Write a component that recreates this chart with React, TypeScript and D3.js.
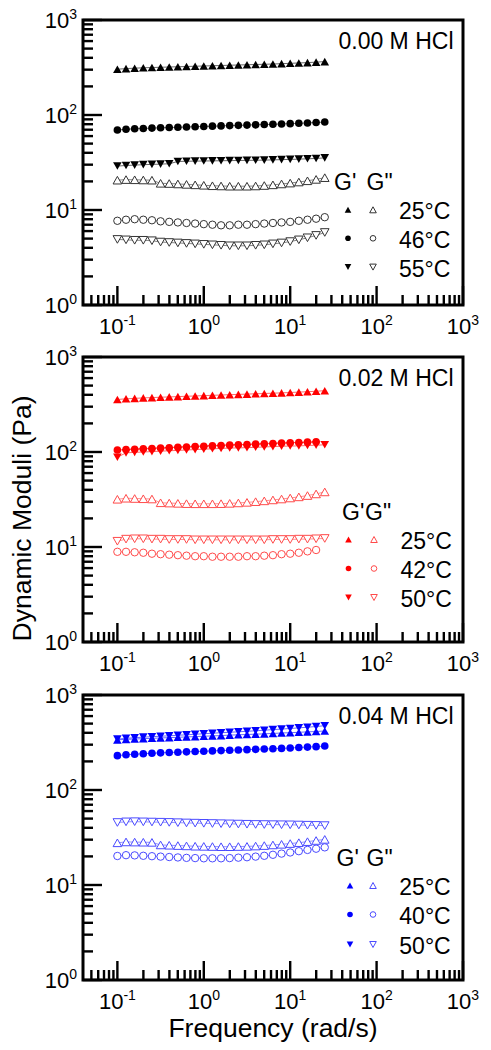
import React from "react";
import * as d3 from "d3";

// ---------- data ----------
const FREQ = [0.1, 0.1259, 0.1585, 0.1995, 0.2512, 0.3162, 0.3981, 0.5012, 0.631, 0.7943, 1, 1.259, 1.585, 1.995, 2.512, 3.162, 3.981, 5.012, 6.31, 7.943, 10, 12.59, 15.85, 19.95, 25.12];

const X_TICK_EXPS = [-1, 0, 1, 2, 3];
const Y_TICK_EXPS = [0, 1, 2, 3];

// 0.00 M HCl
const P1_TEMPS = ["25°C", "46°C", "55°C"];
const P1_GP_25 = [303, 308, 311, 314, 316, 318, 320, 322, 324, 326, 328, 330, 332, 334, 336, 338, 340, 342, 344, 347, 350, 353, 356, 360, 365];
const P1_GP_46 = [69.5, 70.8, 71.6, 72.2, 72.8, 73.3, 73.8, 74.3, 74.8, 75.3, 75.8, 76.3, 76.8, 77.3, 77.8, 78.3, 78.8, 79.3, 79.9, 80.5, 81.1, 81.8, 82.5, 83.3, 84.3];
const P1_GP_55 = [29.0, 29.4, 29.7, 30.0, 30.2, 30.4, 30.7, 32.4, 32.6, 32.7, 32.8, 32.9, 33.0, 33.1, 33.2, 33.3, 33.4, 33.5, 33.7, 33.9, 34.1, 34.3, 34.6, 34.9, 35.4];
const P1_GPP_25 = [20.6, 20.9, 20.8, 20.7, 20.6, 19.1, 19.0, 18.8, 18.6, 18.4, 18.2, 18.0, 17.9, 17.8, 17.8, 17.8, 17.9, 18.1, 18.4, 18.8, 19.2, 19.7, 20.3, 21.0, 21.9];
const P1_GPP_46 = [7.7, 7.9, 8.0, 7.9, 7.8, 7.6, 7.5, 7.4, 7.3, 7.2, 7.1, 7.0, 6.9, 6.9, 7.0, 7.0, 7.1, 7.2, 7.3, 7.4, 7.5, 7.7, 7.9, 8.1, 8.4];
const P1_GPP_55 = [4.9, 4.85, 4.8, 4.8, 4.75, 4.6, 4.55, 4.5, 4.45, 4.4, 4.35, 4.3, 4.25, 4.2, 4.2, 4.2, 4.25, 4.3, 4.4, 4.5, 4.65, 4.85, 5.1, 5.4, 5.8];

// 0.02 M HCl
const P2_TEMPS = ["25°C", "42°C", "50°C"];
const P2_GP_25 = [357, 363, 367, 371, 374, 377, 380, 383, 386, 389, 392, 395, 398, 401, 404, 407, 410, 413, 416, 419, 423, 427, 431, 436, 442];
const P2_GP_42 = [105, 106, 107, 108, 109, 110, 111, 112, 113, 114, 115, 116, 117, 118, 119, 120, 121, 122, 123, 124, 125, 126, 127, 128];
const P2_GP_50 = [88, 98, 99, 100, 101, 102, 103, 104, 105, 106, 107, 108, 109, 110, 110.5, 111, 112, 113, 114, 115, 115.5, 116, 117, 118, 119];
const P2_GPP_25 = [31.8, 32.6, 32.4, 32.2, 32.0, 29.2, 29.0, 28.8, 28.6, 28.5, 28.5, 28.5, 28.6, 28.8, 29.1, 29.5, 30.0, 30.6, 31.3, 32.0, 32.8, 33.7, 34.8, 36.2, 38.0];
const P2_GPP_42 = [8.9, 8.9, 8.8, 8.7, 8.5, 8.4, 8.3, 8.2, 8.1, 8.0, 8.0, 7.9, 7.9, 7.9, 7.9, 8.0, 8.0, 8.1, 8.2, 8.4, 8.5, 8.7, 9.0, 9.3];
const P2_GPP_50 = [11.5, 12.1, 12.2, 12.2, 12.1, 12.1, 12.0, 12.0, 12.0, 11.9, 11.9, 11.9, 11.9, 11.9, 11.9, 11.9, 11.9, 11.9, 12.0, 12.0, 12.0, 12.1, 12.1, 12.2, 12.3];

// 0.04 M HCl
const P3_TEMPS = ["25°C", "40°C", "50°C"];
const P3_GP_25 = [337, 341, 344, 347, 350, 353, 356, 359, 362, 365, 368, 371, 374, 378, 381, 384, 387, 390, 394, 398, 401, 405, 409, 413, 418];
const P3_GP_40 = [230, 235, 238, 241, 244, 246, 248, 250, 252, 254, 256, 258, 260, 262, 264, 266, 268, 270, 272, 274, 277, 280, 283, 286, 290];
const P3_GP_50 = [343, 350, 355, 360, 364, 368, 372, 377, 381, 386, 391, 396, 401, 405, 410, 415, 420, 426, 432, 438, 444, 451, 458, 466, 475];
const P3_GPP_25 = [27.8, 28.4, 28.3, 28.2, 28.1, 26.4, 26.2, 26.0, 25.8, 25.6, 25.5, 25.4, 25.3, 25.3, 25.4, 25.5, 25.7, 26.0, 26.4, 26.8, 27.3, 27.9, 28.6, 29.4, 30.2];
const P3_GPP_40 = [20.2, 20.6, 20.5, 20.3, 20.1, 19.9, 19.7, 19.5, 19.3, 19.2, 19.1, 19.1, 19.1, 19.2, 19.4, 19.6, 19.9, 20.3, 20.8, 21.4, 22.0, 22.7, 23.4, 24.1, 24.9];
const P3_GPP_50 = [45.5, 46.2, 46.4, 46.2, 46.0, 45.8, 45.6, 45.3, 45.0, 44.8, 44.6, 44.4, 44.2, 44.0, 43.8, 43.6, 43.4, 43.3, 43.2, 43.1, 43.0, 42.8, 42.6, 42.4, 42.2];

const PANEL_LABELS = ["0.00 M HCl", "0.02 M HCl", "0.04 M HCl"];
const SHAPES = ["up", "circle", "down"];

// ---------- layout / style ----------
const FONT = "'Liberation Sans', Arial, Helvetica, sans-serif";
const X0 = 83;
const X1 = 463;
const PANEL_H = 285;
const PANELS = [
  {
    top: 20, color: "#000000", open: "#333333", label: PANEL_LABELS[0], temps: P1_TEMPS,
    gp: [P1_GP_25, P1_GP_46, P1_GP_55], gpp: [P1_GPP_25, P1_GPP_46, P1_GPP_55],
    leg: { g1: 334, g2: 366.5, gy: 170, rows: [199.3, 227.8, 256.6], s1: 348, s2: 373, tx: 399 },
  },
  {
    top: 357, color: "#ff0000", open: "#ff4a4a", label: PANEL_LABELS[1], temps: P2_TEMPS,
    gp: [P2_GP_25, P2_GP_42, P2_GP_50], gpp: [P2_GPP_25, P2_GPP_42, P2_GPP_50],
    leg: { g1: 342, g2: 365, gy: 163, rows: [192, 221, 250], s1: 348.5, s2: 374, tx: 400.5 },
  },
  {
    top: 695, color: "#0000ff", open: "#4a4aff", label: PANEL_LABELS[2], temps: P3_TEMPS,
    gp: [P3_GP_25, P3_GP_40, P3_GP_50], gpp: [P3_GPP_25, P3_GPP_40, P3_GPP_50],
    leg: { g1: 336.5, g2: 366.5, gy: 170.5, rows: [200, 229, 259], s1: 350, s2: 373, tx: 399.3 },
  },
];

function markerPath(shape: string, w: number, h: number) {
  if (shape === "up") return `M0,${-h / 2}L${w / 2},${h / 2}L${-w / 2},${h / 2}Z`;
  if (shape === "down") return `M0,${h / 2}L${w / 2},${-h / 2}L${-w / 2},${-h / 2}Z`;
  const r = w / 2;
  return `M${r},0A${r},${r} 0 1,1 ${-r},0A${r},${r} 0 1,1 ${r},0Z`;
}

const xScale = d3.scaleLog().domain([0.04, 1000]).range([X0, X1]);

function Panel({ p }: any) {
  const top = p.top;
  const bottom = top + PANEL_H;
  const y = d3.scaleLog().domain([1, 1000]).range([bottom, top]);
  const line = d3
    .line<number>()
    .x((_, i) => xScale(FREQ[i]))
    .y((v) => y(v));

  const xMinor: number[] = [];
  [0.01, 0.1, 1, 10, 100].forEach((d) => {
    for (let k = 2; k <= 9; k++) {
      const v = d * k;
      if (v > 0.04 && v < 1000) xMinor.push(v);
    }
  });
  const yMinor: number[] = [];
  [1, 10, 100].forEach((d) => {
    for (let k = 2; k <= 9; k++) yMinor.push(d * k);
  });

  const series: any[] = [];
  p.gp.forEach((vals: number[], i: number) => series.push({ vals, shape: SHAPES[i], filled: true }));
  p.gpp.forEach((vals: number[], i: number) => series.push({ vals, shape: SHAPES[i], filled: false }));

  const MW = 8.6;
  const MH = 7.6;

  return (
    <g>
      {series.map((s, si) => (
        <path key={"l" + si} d={line(s.vals) || ""} fill="none" stroke={s.filled ? p.color : p.open} strokeWidth={1} strokeOpacity={0.6} />
      ))}
      {series
        .filter((s) => !s.filled)
        .map((s, si) =>
          s.vals.map((v: number, i: number) => (
            <path key={`o${si}-${i}`} transform={`translate(${xScale(FREQ[i])},${y(v)})`} d={markerPath(s.shape, s.shape === "circle" ? 7.4 : MW, MH)} fill="#ffffff" stroke={p.open} strokeWidth={1} />
          ))
        )}
      {series
        .filter((s) => s.filled)
        .map((s, si) =>
          s.vals.map((v: number, i: number) => (
            <path key={`f${si}-${i}`} transform={`translate(${xScale(FREQ[i])},${y(v)})`} d={markerPath(s.shape, s.shape === "circle" ? 7.6 : MW, MH)} fill={p.color} stroke="none" />
          ))
        )}

      {xMinor.map((v, i) => (
        <line key={"xm" + i} x1={xScale(v)} x2={xScale(v)} y1={bottom} y2={bottom - 10} stroke="#000" strokeWidth={2.4} />
      ))}
      {X_TICK_EXPS.map((e) => (
        <line key={"xM" + e} x1={xScale(Math.pow(10, e))} x2={xScale(Math.pow(10, e))} y1={bottom} y2={bottom - 19} stroke="#000" strokeWidth={2.4} />
      ))}
      {yMinor.map((v, i) => (
        <line key={"ym" + i} x1={X0} x2={X0 + 10} y1={y(v)} y2={y(v)} stroke="#000" strokeWidth={2.4} />
      ))}
      {Y_TICK_EXPS.map((e) => (
        <line key={"yM" + e} x1={X0} x2={X0 + 19} y1={y(Math.pow(10, e))} y2={y(Math.pow(10, e))} stroke="#000" strokeWidth={2.4} />
      ))}

      <rect x={X0} y={top} width={X1 - X0} height={PANEL_H} fill="none" stroke="#000" strokeWidth={3} />

      {X_TICK_EXPS.map((e) => (
        <text key={"xl" + e} x={xScale(Math.pow(10, e))} y={bottom + 28.5} textAnchor="middle" fontFamily={FONT} fontSize={22} fill="#000">
          10<tspan dy={-8.5} fontSize={14}>{String(e)}</tspan>
        </text>
      ))}
      {Y_TICK_EXPS.map((e) => (
        <text key={"yl" + e} x={77} y={y(Math.pow(10, e)) + 7.5} textAnchor="end" fontFamily={FONT} fontSize={22} fill="#000">
          10<tspan dy={-8.5} fontSize={14}>{String(e)}</tspan>
        </text>
      ))}

      <text x={453.5} y={top + 28.5} textAnchor="end" fontFamily={FONT} fontSize={23} fill="#000">
        {p.label}
      </text>

      <text x={p.leg.g1} y={top + p.leg.gy} fontFamily={FONT} fontSize={23} fill="#000">G'</text>
      <text x={p.leg.g2} y={top + p.leg.gy} fontFamily={FONT} fontSize={23} fill="#000">G"</text>
      {p.temps.map((t: string, i: number) => {
        const ry = top + p.leg.rows[i];
        const sy = ry - 9.5;
        const shp = SHAPES[i];
        return (
          <g key={"lg" + i}>
            <path transform={`translate(${p.leg.s1},${sy})`} d={markerPath(shp, shp === "circle" ? 5.6 : 6.6, 6)} fill={p.color} />
            <path transform={`translate(${p.leg.s2},${sy})`} d={markerPath(shp, shp === "circle" ? 5.6 : 6.6, 6)} fill="#fff" stroke={p.open} strokeWidth={1} />
            <text x={p.leg.tx} y={ry} fontFamily={FONT} fontSize={23} fill="#000">{t}</text>
          </g>
        );
      })}
    </g>
  );
}

export default function App() {
  return (
    <svg width={491} height={1050} style={{ position: "absolute", left: 0, top: 0, background: "#fff" }}>
      <rect x={0} y={0} width={491} height={1050} fill="#fff" />
      {PANELS.map((p, i) => (
        <Panel key={i} p={p} />
      ))}
      <text transform="translate(31,518.5) rotate(-90)" textAnchor="middle" fontFamily={FONT} fontSize={26.5} fill="#000">
        Dynamic Moduli (Pa)
      </text>
      <text x={273} y={1036.5} textAnchor="middle" fontFamily={FONT} fontSize={26.5} fill="#000">
        Frequency (rad/s)
      </text>
    </svg>
  );
}
